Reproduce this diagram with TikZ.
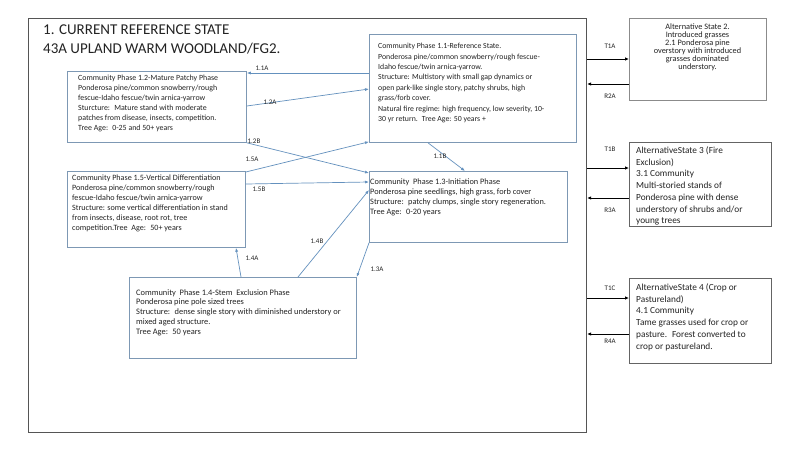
\documentclass[tikz,border=0pt]{standalone}
\usepackage{fontspec}
\setmainfont{Carlito}
\usetikzlibrary{arrows.meta,calc}
\definecolor{boxc}{RGB}{125,152,180}
\definecolor{arrc}{RGB}{100,145,190}
\definecolor{framec}{RGB}{85,85,85}
\definecolor{altc}{RGB}{100,100,100}
\definecolor{txt}{RGB}{35,35,35}
\tikzset{
  phasebox/.style={draw=boxc, line width=0.8pt, inner sep=0pt, anchor=north west},
  altbox/.style={draw=altc, line width=0.9pt, inner sep=0pt, anchor=north west},
  ptext/.style={anchor=north west, inner sep=0pt, align=left, text=txt, font=\fontsize{7.9}{10}\selectfont},
  atext/.style={anchor=north west, inner sep=0pt, align=left, text=txt, font=\fontsize{9.3}{11.7}\selectfont},
  lbl/.style={inner sep=0pt, text=txt, font=\fontsize{7}{8}\selectfont},
  flow/.style={draw=arrc, line width=0.7pt, -{Latex[length=4pt,width=3pt]}},
  trans/.style={draw=black, line width=0.8pt, -{Latex[length=4pt,width=3.5pt]}}
}
\begin{document}
\begin{tikzpicture}[x=1pt,y=-1pt]
\useasboundingbox (0,0) rectangle (800,450);
\fill[white] (0,0) rectangle (800,450);
% main frame
\node[draw=framec, line width=1.1pt, minimum width=558, minimum height=414, anchor=north west, inner sep=0pt] (main) at (28,18) {};
\node[anchor=north west, inner sep=0pt, align=left, text=txt, font=\fontsize{15}{18.5}\selectfont] (title) at (43,25) {1. CURRENT REFERENCE STATE\\43A UPLAND WARM WOODLAND/FG2.};
% phase boxes
\node[phasebox, minimum width=207, minimum height=108] (b11) at (369,34) {};
\node[phasebox, minimum width=179, minimum height=71] (b12) at (67,71) {};
\node[phasebox, minimum width=178, minimum height=76] (b15) at (67,171) {};
\node[phasebox, minimum width=198, minimum height=71] (b13) at (369,171) {};
\node[phasebox, minimum width=227, minimum height=81] (b14) at (129,277) {};
% texts
\node[ptext, font=\fontsize{7.8}{10.4}\selectfont] (t11) at (378,43) {Community Phase 1.1-Reference State.\\Ponderosa pine/common snowberry/rough fescue-\\Idaho fescue/twin arnica-yarrow.\\Structure: Multistory with small gap dynamics or\\open park-like single story, patchy shrubs, high\\grass/forb cover.\\Natural fire regime: high frequency, low severity, 10-\\30 yr return.~ Tree Age: 50 years +};
\node[ptext, font=\fontsize{7.9}{9.9}\selectfont] (t12) at (78,75) {Community Phase 1.2-Mature Patchy Phase\\Ponderosa pine/common snowberry/rough\\fescue-Idaho fescue/twin arnica-yarrow\\Sturcture:~ Mature stand with moderate\\patches from disease, insects, competition.\\Tree Age:~ 0-25 and 50+ years};
\node[ptext, font=\fontsize{8.1}{10}\selectfont] (t15) at (72,175) {Community Phase 1.5-Vertical Differentiation\\Ponderosa pine/common snowberry/rough\\fescue-Idaho fescue/twin arnica-yarrow\\Structure: some vertical differentiation in stand\\from insects, disease, root rot, tree\\competition.Tree~ Age:~ 50+ years};
\node[ptext, font=\fontsize{8.3}{10}\selectfont] (t13) at (370,179) {Community~ Phase 1.3-Initiation Phase\\Ponderosa pine seedlings, high grass, forb cover\\Structure:~ patchy clumps, single story regeneration.\\Tree Age:~ 0-20 years};
\node[ptext, font=\fontsize{8.4}{9.75}\selectfont] (t14) at (136,289) {Community~ Phase 1.4-Stem~ Exclusion Phase\\Ponderosa pine pole sized trees\\Structure:~ dense single story with diminished understory or\\mixed aged structure.\\Tree Age:~ 50 years};
% alternative states
\node[draw=altc!75, line width=0.8pt, inner sep=0pt, anchor=north west, minimum width=137, minimum height=82] (s2) at (629,18) {};
\node[anchor=north, inner sep=0pt, align=center, text=txt, font=\fontsize{8.3}{8}\selectfont] (t2) at (697.5,24) {Alternative State 2.\\Introduced grasses\\2.1 Ponderosa pine\\overstory with introduced\\grasses dominated\\understory.};
\node[altbox, minimum width=142, minimum height=84] (s3) at (629,142) {};
\node[atext] (t3) at (636,146.5) {AlternativeState 3 (Fire\\Exclusion)\\3.1 Community\\Multi-storied stands of\\Ponderosa pine with dense\\understory of shrubs and/or\\young trees};
\node[altbox, minimum width=142, minimum height=85] (s4) at (629,278) {};
\node[atext] (t4) at (636,283.5) {AlternativeState 4 (Crop or\\Pastureland)\\4.1 Community\\Tame grasses used for crop or\\pasture.~ Forest converted to\\crop or pastureland.};
% phase connectors
\draw[flow] ($(b11.north west)+(0,39)$) -- ($(b12.north east)+(0,2)$);
\draw[flow] ($(b12.north east)+(0,35)$) -- ($(b11.north west)+(0,55)$);
\draw[flow] (b12.south east) -- ($(b13.north west)+(0,2)$);
\draw[flow] ($(b15.north east)+(0,1)$) -- ($(b11.south west)+(0,-1)$);
\draw[flow] ($(b15.north east)+(0,13)$) -- ($(b13.north west)+(0,11)$);
\draw[flow] ($(b14.north west)+(112,0)$) -- ($(b15.south west)+(169,0)$);
\draw[flow] ($(b14.north west)+(169,0)$) -- ($(b13.north west)+(0,19)$);
\draw[flow] ($(b11.south west)+(59,0)$) -- ($(b13.north west)+(96,0)$);
\draw[flow] (b13.south west) -- (b14.north east);
\node[lbl] (l11a) at (262,68) {1.1A};
\node[lbl] (l12a) at (270,102) {1.2A};
\node[lbl] (l12b) at (254,141) {1.2B};
\node[lbl] (l15a) at (252,159) {1.5A};
\node[lbl] (l15b) at (259,189) {1.5B};
\node[lbl] (l14a) at (252,258) {1.4A};
\node[lbl] (l14b) at (317,241) {1.4B};
\node[lbl] (l11b) at (440,156) {1.1B};
\node[lbl] (l13a) at (377,269) {1.3A};
% transitions
\draw[trans] ($(main.north east)+(0,41)$) -- ($(s2.north west)+(0,41)$);
\draw[trans] ($(s2.north west)+(0,66)$) -- ($(main.north east)+(0,66)$);
\draw[trans] ($(main.north east)+(0,150)$) -- ($(s3.north west)+(0,26)$);
\draw[trans] ($(s3.north west)+(0,56)$) -- ($(main.north east)+(0,180)$);
\draw[trans] ($(main.north east)+(0,280)$) -- ($(s4.north west)+(0,20)$);
\draw[trans] ($(s4.north west)+(0,56)$) -- ($(main.north east)+(0,316)$);
\node[lbl] (lt1a) at (610,46) {T1A};
\node[lbl] (lr2a) at (610,96) {R2A};
\node[lbl] (lt1b) at (610,149) {T1B};
\node[lbl] (lr3a) at (610,210) {R3A};
\node[lbl] (lt1c) at (610,288) {T1C};
\node[lbl] (lr4a) at (610,341) {R4A};
\end{tikzpicture}
\end{document}
